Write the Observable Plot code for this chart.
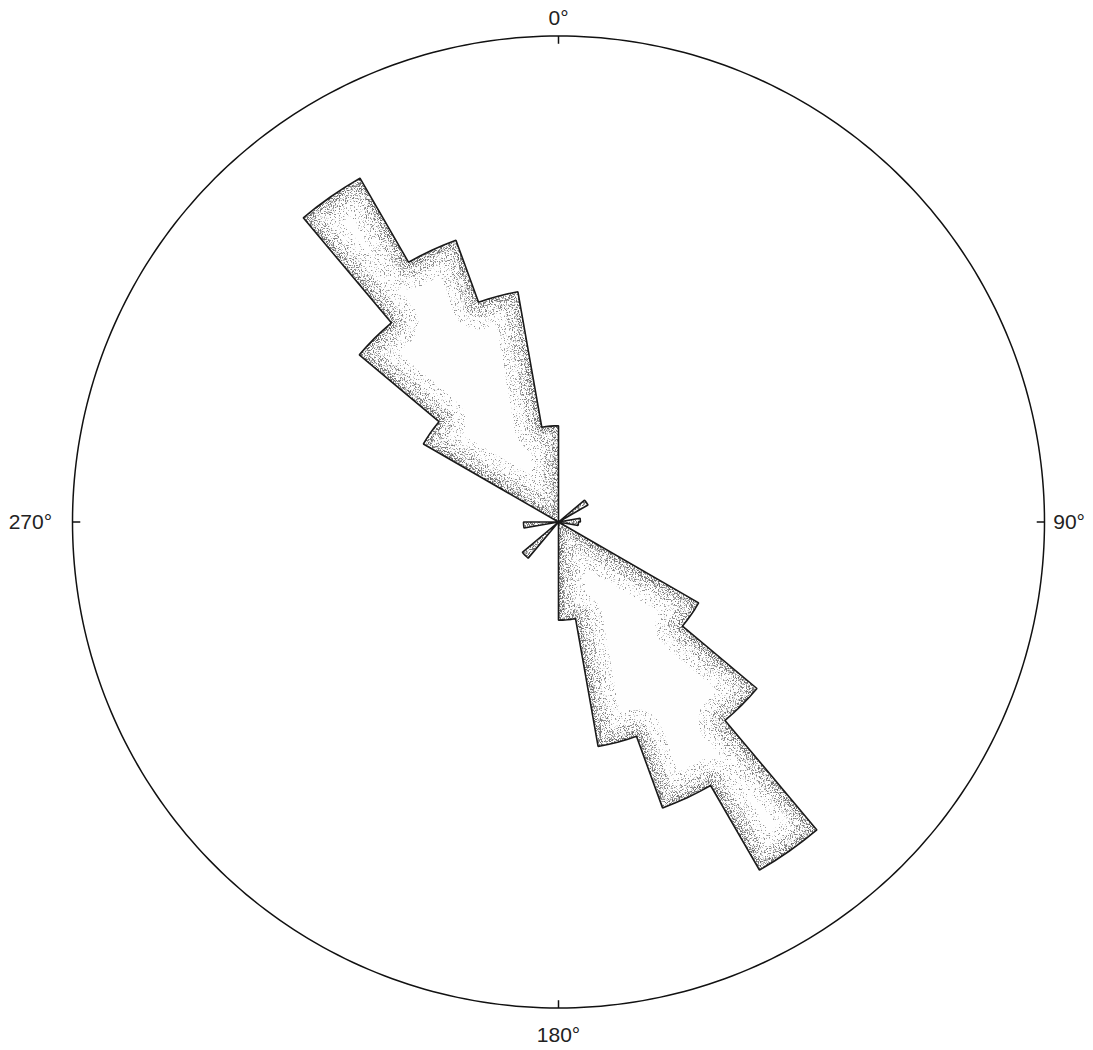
<!DOCTYPE html>
<html>
<head>
<meta charset="utf-8">
<script src="https://cdn.jsdelivr.net/npm/d3@7"></script>
<script src="https://cdn.jsdelivr.net/npm/@observablehq/plot@0.6"></script>
<style>
  html, body { margin: 0; padding: 0; background: #fff; }
  svg { display: block; }
</style>
</head>
<body>
<div id="chart"></div>
<script>
// Rose diagram: 10° bins (start angle, clockwise from north) and their lengths
// (in % of the outer circle radius).
const binWidth = 10;
const binStart = [50, 80, 90, 120, 130, 140, 150, 160, 170, 220, 260, 300, 310, 320, 330, 340, 350];
const binValue = [7.0, 4.5, 4.1, 33.3, 53.3, 82.7, 62.6, 46.9, 20.2, 9.7, 7.2, 32.1, 53.5, 81.7, 61.7, 48.1, 19.8];
const circleValue = 100;
const tickAngles = [0, 90, 180, 270];
const tickLabels = ["0°", "90°", "180°", "270°"];

const rad = d => d * Math.PI / 180;
const valueOf = new Map(binStart.map((s, i) => [s, binValue[i]]));

// outline of the whole rose, traced bin by bin (empty bins pass through the centre)
const rose = [];
for (let a0 = 0; a0 < 360; a0 += binWidth) {
  const r = valueOf.get(a0) || 0;
  for (let t = 0; t <= 4; t++) {
    const a = a0 + t * binWidth / 4;
    rose.push({x: r * Math.sin(rad(a)), y: r * Math.cos(rad(a))});
  }
}
const circle = d3.range(0, 360, 1).map(a => ({x: circleValue * Math.sin(rad(a)), y: circleValue * Math.cos(rad(a))}));
const ticks = tickAngles.map(a => ({a}));
const labels = tickAngles.map((a, i) => ({a, label: tickLabels[i]}));

const bands = [
  {width: 54, filter: "stippleC"},
  {width: 30, filter: "stippleB"},
  {width: 12, filter: "stippleA"}
];

const chart = Plot.plot({
  width: 1093,
  height: 1050,
  marginLeft: 72,
  marginRight: 49,
  marginTop: 35.5,
  marginBottom: 42.5,
  x: {domain: [-100, 100], axis: null},
  y: {domain: [-100, 100], axis: null},
  style: {fontFamily: "'Liberation Sans', Arial, sans-serif", background: "#fff"},
  marks: [
    Plot.line(rose, {x: "x", y: "y", curve: "linear-closed", fill: "#fefefe", stroke: "none"}),
    ...bands.map(b => Plot.line(rose, {x: "x", y: "y", curve: "linear-closed", stroke: "#000", strokeWidth: b.width, strokeLinejoin: "round"})),
    Plot.line(rose, {x: "x", y: "y", curve: "linear-closed", stroke: "#1a1a1a", strokeWidth: 1.6, strokeLinejoin: "miter"}),
    Plot.line(circle, {x: "x", y: "y", curve: "linear-closed", stroke: "#111", strokeWidth: 1.5}),
    Plot.link(ticks, {
      x1: d => 98.4 * Math.sin(rad(d.a)), y1: d => 98.4 * Math.cos(rad(d.a)),
      x2: d => 100 * Math.sin(rad(d.a)), y2: d => 100 * Math.cos(rad(d.a)),
      stroke: "#111", strokeWidth: 1.5
    }),
    Plot.text(labels.filter(d => d.a === 0), {
      x: 0, y: 103.6, text: "label", fontSize: 21, fill: "#222", textAnchor: "middle"
    }),
    Plot.text(labels.filter(d => d.a === 180), {
      x: 0, y: -105.6, text: "label", fontSize: 21, fill: "#222", textAnchor: "middle"
    }),
    Plot.text(labels.filter(d => d.a === 90), {
      x: 101.8, y: 0, text: "label", fontSize: 21, fill: "#222", textAnchor: "start"
    }),
    Plot.text(labels.filter(d => d.a === 270), {
      x: -104.2, y: 0, text: "label", fontSize: 21, fill: "#222", textAnchor: "end"
    })
  ]
});

// stippled shading inside the rose outline
const ns = "http://www.w3.org/2000/svg";
const defs = document.createElementNS(ns, "defs");
const stipple = (id, seed, freq, k, b, g) => `
  <filter id="${id}" filterUnits="userSpaceOnUse" x="0" y="0" width="1093" height="1050">
    <feTurbulence type="fractalNoise" baseFrequency="${freq}" numOctaves="2" seed="${seed}" result="noise"/>
    <feColorMatrix in="noise" type="matrix" values="0 0 0 0 ${g}  0 0 0 0 ${g}  0 0 0 0 ${g}  ${k} 0 0 0 ${b}" result="dots"/>
    <feComposite in="dots" in2="SourceGraphic" operator="in"/>
  </filter>`;
defs.innerHTML = stipple("stippleA", 9, 0.9, 9, -4.7, 0.15) + stipple("stippleB", 4, 0.85, 9, -5.0, 0.22) + stipple("stippleC", 13, 0.8, 9, -5.4, 0.3);
chart.insertBefore(defs, chart.firstChild);
const lineGroups = chart.querySelectorAll('g[aria-label="line"]');
const outlineG = lineGroups[1 + bands.length];
const outlinePath = outlineG.querySelector("path");
const clip = document.createElementNS(ns, "clipPath");
clip.setAttribute("id", "roseClip");
const cp = document.createElementNS(ns, "path");
cp.setAttribute("d", outlinePath.getAttribute("d"));
clip.appendChild(cp);
defs.appendChild(clip);
bands.forEach((b, i) => {
  const g = lineGroups[1 + i];
  const p = g.querySelector("path");
  const wrap = document.createElementNS(ns, "g");
  const tr = outlineG.getAttribute("transform");
  if (tr) wrap.setAttribute("transform", tr);
  wrap.setAttribute("clip-path", "url(#roseClip)");
  g.parentNode.insertBefore(wrap, g);
  wrap.appendChild(g);
  g.removeAttribute("transform");
  p.setAttribute("filter", `url(#${b.filter})`);
});
document.getElementById("chart").appendChild(chart);
</script>
</body>
</html>
